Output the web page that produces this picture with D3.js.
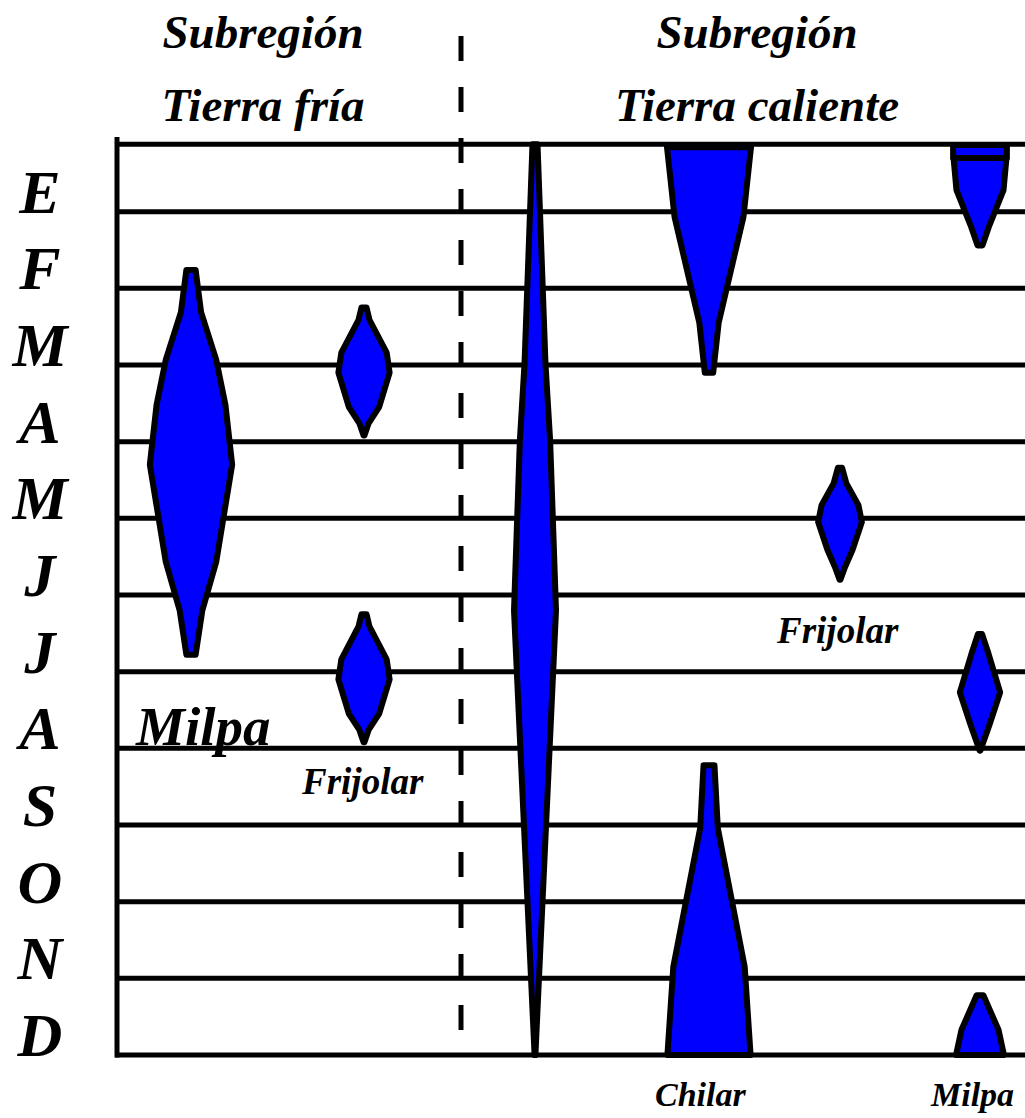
<!DOCTYPE html>
<html><head><meta charset="utf-8">
<script src="https://cdn.jsdelivr.net/npm/d3@7"></script>
<style>
html,body{margin:0;padding:0;background:#fff;}
svg{display:block;}
text{font-family:"Liberation Serif","Times New Roman",serif;font-weight:bold;font-style:italic;fill:#000;}
</style></head>
<body>
<script>
// ---- data ----
const months = ["E","F","M","A","M","J","J","A","S","O","N","D"];
const regionTitles = [["Subregión","Tierra fría"],["Subregión","Tierra caliente"]];
const columns = ["MilpaTF","FrijolarTF","Continuo","Chilar","FrijolarTC","MilpaTC"];
// each profile: [month position (0 = start of Enero), relative intensity 0..10]
const milpaTF      = [[1.76,1.1],[2.31,2.4],[2.93,6.0],[3.52,8.2],[4.30,9.8],[5.57,6.0],[6.20,2.7],[6.78,1.1]];
const frijolarTF1  = [[2.25,0.6],[2.41,1.3],[2.84,5.4],[3.10,6.1],[3.55,3.6],[3.76,1.1],[3.92,0.1]];
const frijolarTF2  = [[6.25,0.6],[6.41,1.3],[6.84,5.4],[7.10,6.1],[7.55,3.6],[7.76,1.1],[7.92,0.1]];
const continuo     = [[0.12,0.6],[2.99,2.5],[3.98,3.6],[6.20,5.0],[12.0,0.1]];
const chilar1      = [[0.16,10.0],[1.07,8.2],[2.45,2.3],[3.10,1.0]];
const chilar2      = [[8.22,1.3],[9.04,2.1],[10.85,8.5],[12.0,9.9]];
const frijolarTC   = [[4.34,0.5],[4.54,1.5],[4.83,4.4],[5.05,5.2],[5.41,3.0],[5.65,1.1],[5.80,0.1]];
const milpaTC0     = [[0.13,6.4],[0.30,6.4]];
const milpaTC1     = [[0.30,6.3],[0.72,5.6],[1.20,2.1],[1.44,0.6]];
const milpaTC2     = [[6.51,0.5],[6.76,2.0],[7.27,4.8],[7.67,2.4],[8.03,0.1]];
const milpaTC3     = [[11.22,0.8],[11.67,4.4],[12.0,5.7]];
const shapes = [
  {col:"MilpaTF", p:milpaTF},
  {col:"FrijolarTF", p:frijolarTF1},
  {col:"FrijolarTF", p:frijolarTF2},
  {col:"Continuo", p:continuo},
  {col:"Chilar", p:chilar1},
  {col:"Chilar", p:chilar2},
  {col:"FrijolarTC", p:frijolarTC},
  {col:"MilpaTC", p:milpaTC0},
  {col:"MilpaTC", p:milpaTC1},
  {col:"MilpaTC", p:milpaTC2},
  {col:"MilpaTC", p:milpaTC3}
];
const cropLabels = [
  {t:"Milpa", col:"MilpaTF", m:7.95, size:55},
  {t:"Frijolar", col:"FrijolarTF", m:8.6, size:37},
  {t:"Frijolar", col:"FrijolarTC", m:6.62, size:37},
  {t:"Chilar", col:"Chilar", m:12.66, size:34},
  {t:"Milpa", col:"MilpaTC", m:12.66, size:34}
];
const frameTop = 0.12;

// ---- layout ----
const W = 1025, H = 1118;
const svg = d3.select("body").append("svg").attr("width",W).attr("height",H);
const y = d3.scaleLinear().domain([0,12]).range([135,1055]);
const xc = d3.scaleOrdinal().domain(columns).range([191,364,535,709,840,980]);
const labelX = d3.scaleOrdinal().domain(columns).range([136,302,535,655,777,931]);
const w = d3.scaleLinear().domain([0,10]).range([0,42]);
const axisX = 117, rightX = 1025, divX = 461;

// grid lines
const gridVals = [frameTop].concat(d3.range(1,13));
svg.append("g").selectAll("line").data(gridVals).join("line")
  .attr("x1",axisX-2).attr("x2",rightX+5)
  .attr("y1",d=>y(d)).attr("y2",d=>y(d))
  .attr("stroke","#000").attr("stroke-width",5);
// left axis
svg.append("line").attr("x1",axisX).attr("x2",axisX)
  .attr("y1",y(0)+2).attr("y2",y(12)+2.5)
  .attr("stroke","#000").attr("stroke-width",5);
// dashed divider
svg.append("line").attr("x1",divX).attr("x2",divX)
  .attr("y1",36).attr("y2",y(12))
  .attr("stroke","#000").attr("stroke-width",5)
  .attr("stroke-dasharray","25,26");

// month labels
svg.append("g").selectAll("text").data(months).join("text")
  .attr("x",40).attr("y",(d,i)=>y(i+1)+1)
  .attr("text-anchor","middle").attr("font-size",62).text(d=>d);

// titles
const titleX = [263,757];
regionTitles.forEach((t,i)=>{
  svg.append("text").attr("x",titleX[i]).attr("y",48).attr("text-anchor","middle").attr("font-size",47).text(t[0]);
  svg.append("text").attr("x",titleX[i]).attr("y",121).attr("text-anchor","middle").attr("font-size",47).text(t[1]);
});

// shapes
const area = d3.area()
  .y(d=>y(d[0]))
  .curve(d3.curveLinear);
svg.append("g").selectAll("path").data(shapes).join("path")
  .attr("d",s=>area.x0(d=>xc(s.col)-w(d[1])).x1(d=>xc(s.col)+w(d[1]))(s.p))
  .attr("fill","#0000ff").attr("stroke","#000").attr("stroke-width",6)
  .attr("stroke-linejoin","round");

// crop labels
svg.append("g").selectAll("text").data(cropLabels).join("text")
  .attr("x",d=>labelX(d.col)).attr("y",d=>y(d.m))
  .attr("font-size",d=>d.size).text(d=>d.t);
</script>
</body></html>
